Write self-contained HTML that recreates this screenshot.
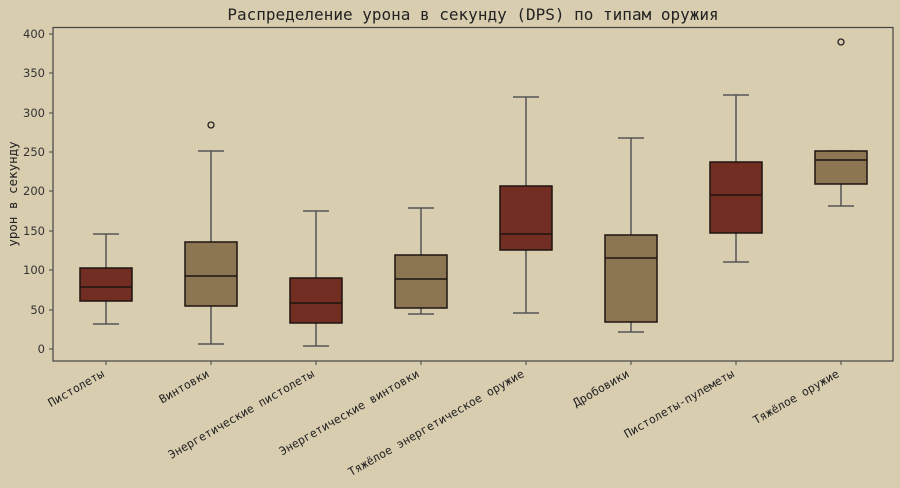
<!DOCTYPE html>
<html><head><meta charset="utf-8"><style>
html,body{margin:0;padding:0;background:#d9cdb0;}
svg{display:block;font-family:"DejaVu Sans Mono","Liberation Mono",monospace;}
</style></head><body>
<svg width="900" height="488" viewBox="0 0 900 488" xmlns="http://www.w3.org/2000/svg">
<rect width="900" height="488" fill="#d9cdb0"/>
<text x="473" y="20" font-size="16" text-anchor="middle" fill="#222">Распределение урона в секунду (DPS) по типам оружия</text>
<g font-family="DejaVu Sans,Liberation Sans,sans-serif" font-size="11.5" fill="#333" text-anchor="end">
<text x="45" y="353">0</text><text x="45" y="314">50</text><text x="45" y="274">100</text>
<text x="45" y="235">150</text><text x="45" y="195">200</text><text x="45" y="156">250</text>
<text x="45" y="117">300</text><text x="45" y="77">350</text><text x="45" y="38">400</text>
</g>
<g stroke="#444" stroke-width="1">
<line x1="49" y1="349" x2="53" y2="349"/><line x1="49" y1="310" x2="53" y2="310"/><line x1="49" y1="270" x2="53" y2="270"/>
<line x1="49" y1="231" x2="53" y2="231"/><line x1="49" y1="191" x2="53" y2="191"/><line x1="49" y1="152" x2="53" y2="152"/>
<line x1="49" y1="113" x2="53" y2="113"/><line x1="49" y1="73" x2="53" y2="73"/><line x1="49" y1="34" x2="53" y2="34"/>
</g>
<text transform="translate(17,194) rotate(-90)" font-size="12.5" text-anchor="middle" fill="#222">урон в секунду</text>
<g stroke-width="1.5">
<g stroke="#555">
<line x1="106" y1="234" x2="106" y2="324"/><line x1="93" y1="234" x2="119" y2="234"/><line x1="93" y1="324" x2="119" y2="324"/>
<line x1="211" y1="151" x2="211" y2="344"/><line x1="198" y1="151" x2="224" y2="151"/><line x1="198" y1="344" x2="224" y2="344"/>
<line x1="316" y1="211" x2="316" y2="346"/><line x1="303" y1="211" x2="329" y2="211"/><line x1="303" y1="346" x2="329" y2="346"/>
<line x1="421" y1="208" x2="421" y2="314"/><line x1="408" y1="208" x2="434" y2="208"/><line x1="408" y1="314" x2="434" y2="314"/>
<line x1="526" y1="97" x2="526" y2="313"/><line x1="513" y1="97" x2="539" y2="97"/><line x1="513" y1="313" x2="539" y2="313"/>
<line x1="631" y1="138" x2="631" y2="332"/><line x1="618" y1="138" x2="644" y2="138"/><line x1="618" y1="332" x2="644" y2="332"/>
<line x1="736" y1="95" x2="736" y2="262"/><line x1="723" y1="95" x2="749" y2="95"/><line x1="723" y1="262" x2="749" y2="262"/>
<line x1="841" y1="151" x2="841" y2="206"/><line x1="828" y1="151" x2="854" y2="151"/><line x1="828" y1="206" x2="854" y2="206"/>
</g>
<g stroke="#1e1410">
<rect x="80" y="268" width="52" height="33" fill="#722e22"/><line x1="80" y1="287" x2="132" y2="287"/>
<rect x="185" y="242" width="52" height="64" fill="#8b7651"/><line x1="185" y1="276" x2="237" y2="276"/>
<rect x="290" y="278" width="52" height="45" fill="#722e22"/><line x1="290" y1="303" x2="342" y2="303"/>
<rect x="395" y="255" width="52" height="53" fill="#8b7651"/><line x1="395" y1="279" x2="447" y2="279"/>
<rect x="500" y="186" width="52" height="64" fill="#722e22"/><line x1="500" y1="234" x2="552" y2="234"/>
<rect x="605" y="235" width="52" height="87" fill="#8b7651"/><line x1="605" y1="258" x2="657" y2="258"/>
<rect x="710" y="162" width="52" height="71" fill="#722e22"/><line x1="710" y1="195" x2="762" y2="195"/>
<rect x="815" y="151" width="52" height="33" fill="#8b7651"/><line x1="815" y1="160" x2="867" y2="160"/>
</g>
<g fill="none" stroke="#222" stroke-width="1.3">
<circle cx="211" cy="125" r="3"/><circle cx="841" cy="42" r="3"/>
</g>
</g>
<rect x="53" y="27.5" width="840" height="333.5" fill="none" stroke="#444" stroke-width="1.2"/>
<g stroke="#444" stroke-width="1">
<line x1="106" y1="361" x2="106" y2="365"/><line x1="211" y1="361" x2="211" y2="365"/><line x1="316" y1="361" x2="316" y2="365"/><line x1="421" y1="361" x2="421" y2="365"/>
<line x1="526" y1="361" x2="526" y2="365"/><line x1="631" y1="361" x2="631" y2="365"/><line x1="736" y1="361" x2="736" y2="365"/><line x1="841" y1="361" x2="841" y2="365"/>
</g>
<g font-size="11.5" fill="#222" text-anchor="end">
<text transform="translate(105,376) rotate(-30)">Пистолеты</text>
<text transform="translate(210,376) rotate(-30)">Винтовки</text>
<text transform="translate(315,376) rotate(-30)">Энергетические пистолеты</text>
<text transform="translate(420,376) rotate(-30)">Энергетические винтовки</text>
<text transform="translate(525,376) rotate(-30)">Тяжёлое энергетическое оружие</text>
<text transform="translate(630,376) rotate(-30)">Дробовики</text>
<text transform="translate(735,376) rotate(-30)">Пистолеты-пулеметы</text>
<text transform="translate(840,376) rotate(-30)">Тяжёлое оружие</text>
</g>
</svg>
</body></html>
